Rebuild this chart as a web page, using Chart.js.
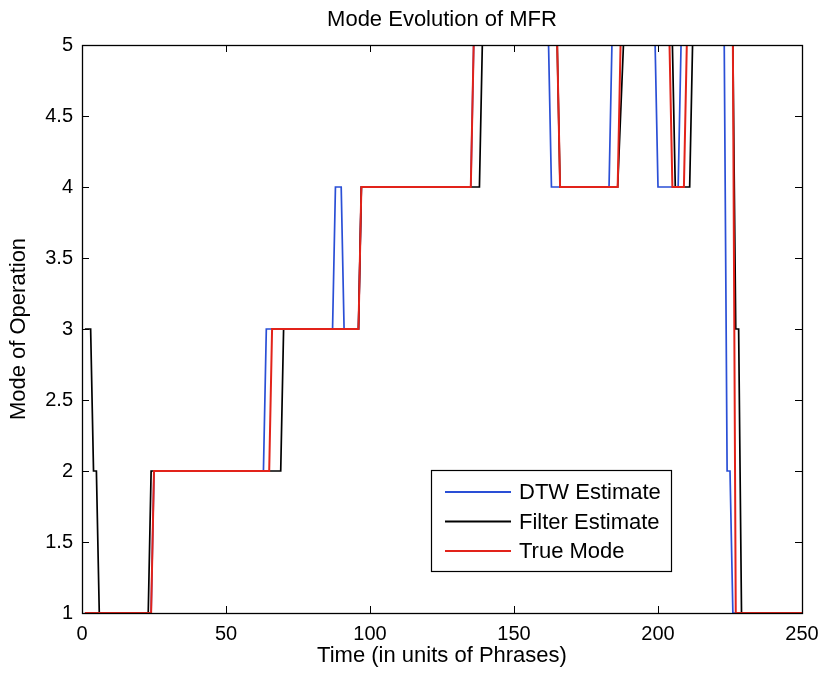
<!DOCTYPE html>
<html>
<head>
<meta charset="utf-8">
<script src="https://cdn.jsdelivr.net/npm/chart.js@4.4.1/dist/chart.umd.min.js"></script>
<style>
  html, body { margin: 0; padding: 0; background: #fff; }
  #wrap { width: 826px; height: 674px; }
</style>
</head>
<body>
<div id="wrap"><canvas id="chart" width="826" height="674"></canvas></div>
<script>
// corner points of each step trace (time in phrases, mode)
const dtwT    = [1, 24, 25, 63, 64, 87, 88, 90, 91, 96, 97, 135, 136, 162, 163, 183, 184, 199, 200, 207, 208, 223, 224, 225, 226, 250];
const dtwMode = [1, 1, 2, 2, 3, 3, 4, 4, 3, 3, 4, 4, 5, 5, 4, 4, 5, 5, 4, 4, 5, 5, 2, 2, 1, 1];

const filterT    = [1, 3, 4, 5, 6, 23, 24, 69, 70, 96, 97, 138, 139, 165, 166, 186, 188, 205, 206, 211, 212, 226, 227, 228, 229, 250];
const filterMode = [3, 3, 2, 2, 1, 1, 2, 2, 3, 3, 4, 4, 5, 5, 4, 4, 5, 5, 4, 4, 5, 5, 3, 3, 1, 1];

const trueT    = [1, 24, 25, 65, 66, 96, 97, 135, 136, 165, 166, 186, 187, 204, 205, 209, 210, 226, 227, 250];
const trueMode = [1, 1, 2, 2, 3, 3, 4, 4, 5, 5, 4, 4, 5, 5, 4, 4, 5, 5, 1, 1];

const xTicks = [0, 50, 100, 150, 200, 250];
const yTicks = [1, 1.5, 2, 2.5, 3, 3.5, 4, 4.5, 5];

const FONT = '"Liberation Sans", Arial, Helvetica, sans-serif';

function pts(xs, ys) {
    return xs.map((x, i) => ({ x: x, y: ys[i] }));
}

// MATLAB-style box with inward ticks, title over the axes and legend inside
const boxPlugin = {
    id: 'matlabBox',
    afterDatasetsDraw(chart) {
        const { ctx, chartArea: a, scales } = chart;
        const tl = 7;
        ctx.save();
        ctx.strokeStyle = '#000';
        ctx.lineWidth = 1;
        ctx.beginPath();
        xTicks.forEach(v => {
            const px = Math.round(scales.x.getPixelForValue(v)) + 0.5;
            ctx.moveTo(px, a.bottom); ctx.lineTo(px, a.bottom - tl);
            ctx.moveTo(px, a.top); ctx.lineTo(px, a.top + tl);
        });
        yTicks.forEach(v => {
            const py = Math.round(scales.y.getPixelForValue(v)) + 0.5;
            ctx.moveTo(a.left, py); ctx.lineTo(a.left + tl, py);
            ctx.moveTo(a.right, py); ctx.lineTo(a.right - tl, py);
        });
        ctx.stroke();
        ctx.lineWidth = 1.3;
        ctx.strokeRect(Math.round(a.left) + 0.5, Math.round(a.top) + 0.5,
                       Math.round(a.right - a.left), Math.round(a.bottom - a.top));

        // title, centred on the axes
        ctx.fillStyle = '#000';
        ctx.font = '22px ' + FONT;
        ctx.textAlign = 'center';
        ctx.textBaseline = 'middle';
        ctx.fillText('Mode Evolution of MFR', (a.left + a.right) / 2, 20);

        // legend
        const lx = 431, ly = 470, lw = 240, lh = 101;
        ctx.fillStyle = '#fff';
        ctx.fillRect(lx, ly, lw, lh);
        ctx.lineWidth = 1.2;
        ctx.strokeStyle = '#000';
        ctx.strokeRect(lx + 0.5, ly + 0.5, lw, lh);
        ctx.font = '22px ' + FONT;
        ctx.textAlign = 'left';
        chart.data.datasets.forEach((ds, i) => {
            const y = ly + 22 + i * 29.5;
            ctx.strokeStyle = ds.borderColor;
            ctx.lineWidth = 2;
            ctx.beginPath();
            ctx.moveTo(445, y); ctx.lineTo(511, y);
            ctx.stroke();
            ctx.fillStyle = '#000';
            ctx.fillText(ds.label, 519, y + 1);
        });
        ctx.restore();
    }
};

new Chart(document.getElementById('chart').getContext('2d'), {
    type: 'line',
    data: {
        datasets: [
            { label: 'DTW Estimate', data: pts(dtwT, dtwMode), borderColor: '#2a4fd6', borderWidth: 1.7, order: 2 },
            { label: 'Filter Estimate', data: pts(filterT, filterMode), borderColor: '#000000', borderWidth: 1.7, order: 1 },
            { label: 'True Mode', data: pts(trueT, trueMode), borderColor: '#e2231a', borderWidth: 2, order: 0 }
        ]
    },
    options: {
        responsive: false,
        animation: false,
        devicePixelRatio: 1,
        layout: { padding: { top: 45, right: 24, left: 0, bottom: 0 } },
        elements: { point: { radius: 0 }, line: { tension: 0, fill: false } },
        plugins: {
            legend: { display: false },
            tooltip: { enabled: false },
            title: { display: false }
        },
        scales: {
            x: {
                type: 'linear',
                min: 0, max: 250,
                afterBuildTicks: s => { s.ticks = xTicks.map(v => ({ value: v })); },
                afterFit: s => { s.height = 61; s.paddingLeft = 0; s.paddingRight = 0; },
                grid: { display: false, drawTicks: false },
                border: { display: false },
                ticks: { color: '#000', padding: 9, font: { family: FONT, size: 20 }, callback: v => String(v) },
                title: {
                    display: true, text: 'Time (in units of Phrases)', color: '#000',
                    font: { family: FONT, size: 22 }, padding: { top: 0, bottom: 4.5 }
                }
            },
            y: {
                min: 1, max: 5,
                afterBuildTicks: s => { s.ticks = yTicks.map(v => ({ value: v })); },
                afterFit: s => { s.width = 82; s.paddingTop = 0; s.paddingBottom = 0; },
                grid: { display: false, drawTicks: false },
                border: { display: false },
                ticks: { color: '#000', padding: 9, font: { family: FONT, size: 20 }, callback: v => String(v) },
                title: {
                    display: true, text: 'Mode of Operation', color: '#000',
                    font: { family: FONT, size: 22 }, padding: { top: 5.5, bottom: 0 }
                }
            }
        }
    },
    plugins: [boxPlugin]
});
</script>
</body>
</html>
